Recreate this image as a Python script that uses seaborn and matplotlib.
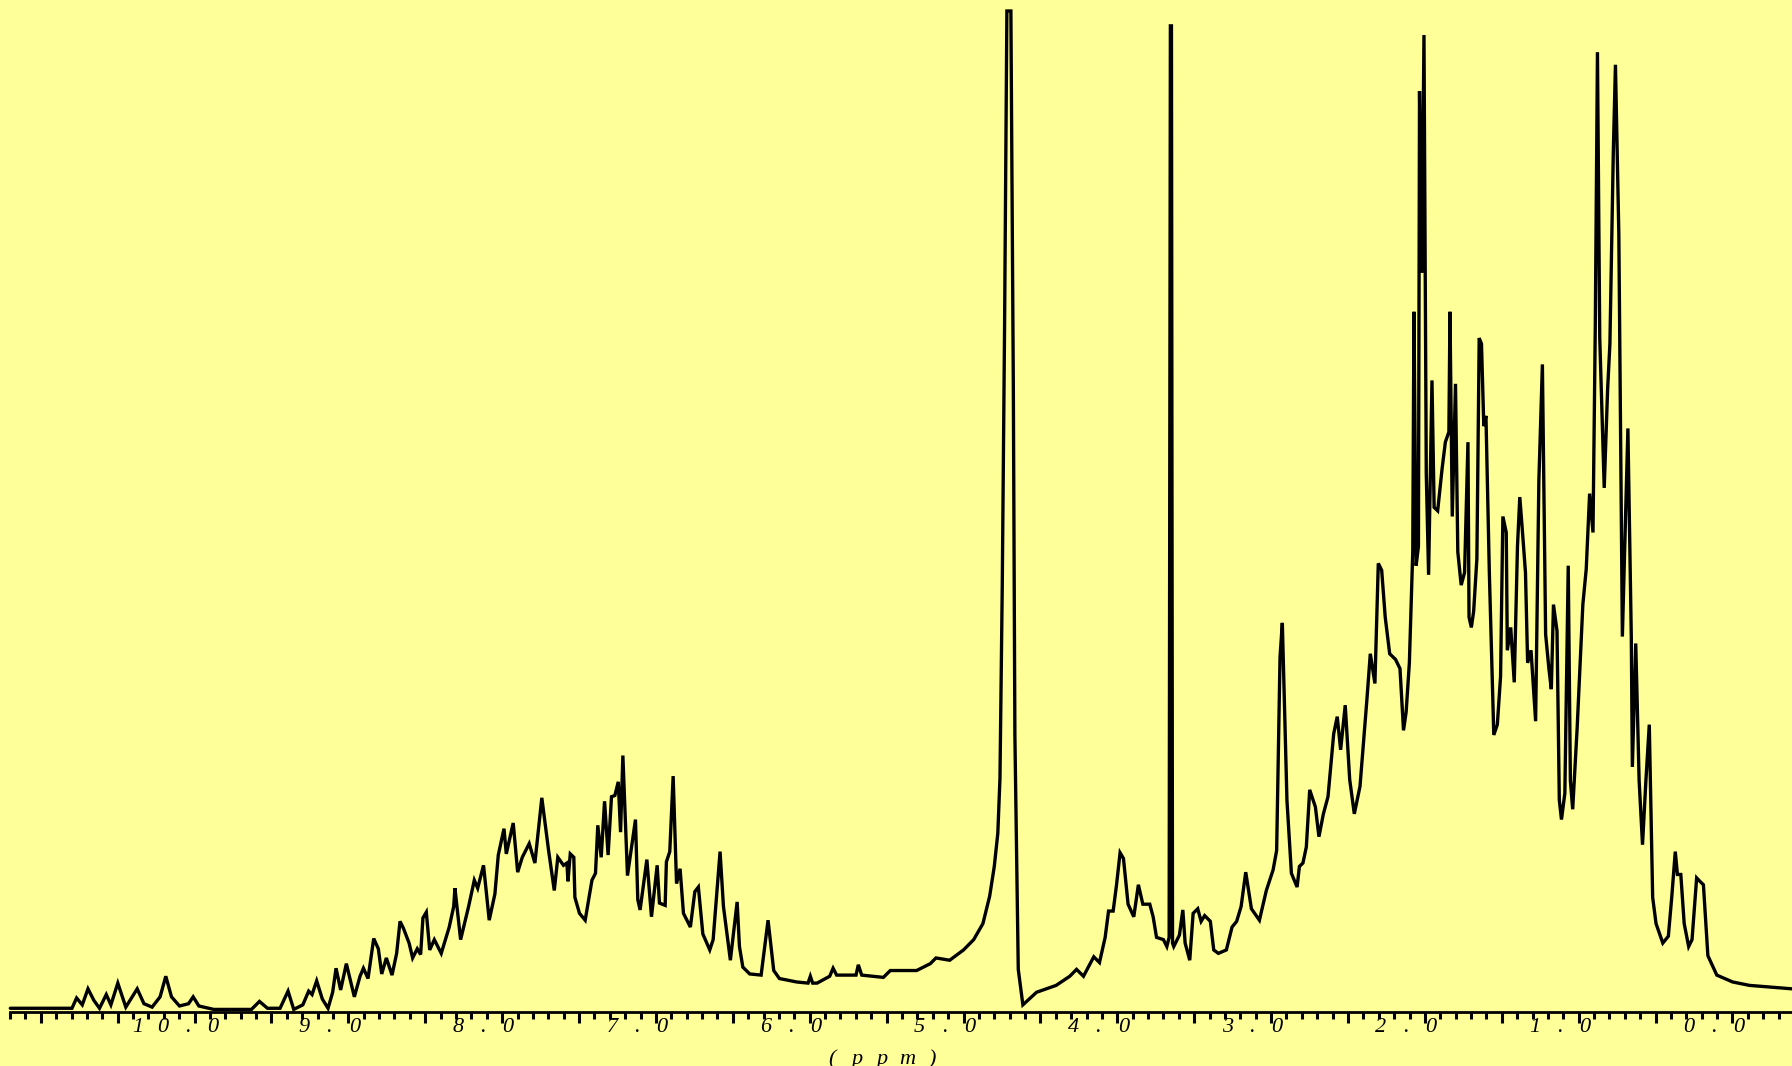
import matplotlib
matplotlib.use("Agg")
import matplotlib.pyplot as plt
import pandas as pd
import seaborn as sns
from matplotlib.ticker import MultipleLocator

# chemical shift (ppm) and intensity (arbitrary units)
ppm = [11.198, 11.042, 10.893, 10.797, 10.767, 10.730, 10.693, 10.655, 10.618, 10.574,
       10.544, 10.499, 10.447, 10.373, 10.329, 10.276, 10.224, 10.187, 10.150, 10.098,
       10.039, 10.009, 9.972, 9.875, 9.779, 9.630, 9.578, 9.526, 9.444, 9.392,
       9.355, 9.296, 9.258, 9.236, 9.206, 9.169, 9.132, 9.102, 9.080, 9.050,
       9.013, 8.961, 8.924, 8.902, 8.872, 8.835, 8.805, 8.783, 8.753, 8.716,
       8.686, 8.664, 8.642, 8.605, 8.582, 8.552, 8.530, 8.515, 8.493, 8.471,
       8.441, 8.396, 8.344, 8.315, 8.307, 8.270, 8.218, 8.181, 8.159, 8.121,
       8.084, 8.047, 8.025, 7.988, 7.973, 7.928, 7.899, 7.869, 7.824, 7.787,
       7.742, 7.698, 7.661, 7.638, 7.601, 7.579, 7.572, 7.557, 7.534, 7.527,
       7.497, 7.460, 7.416, 7.393, 7.378, 7.356, 7.334, 7.311, 7.289, 7.267,
       7.245, 7.230, 7.215, 7.185, 7.133, 7.118, 7.103, 7.059, 7.029, 6.992,
       6.977, 6.940, 6.932, 6.910, 6.888, 6.866, 6.843, 6.821, 6.776, 6.747,
       6.724, 6.695, 6.650, 6.628, 6.583, 6.561, 6.516, 6.472, 6.457, 6.435,
       6.390, 6.316, 6.271, 6.234, 6.197, 6.085, 6.011, 5.996, 5.981, 5.952,
       5.870, 5.848, 5.825, 5.699, 5.684, 5.662, 5.521, 5.476, 5.305, 5.216,
       5.179, 5.090, 5.000, 4.934, 4.874, 4.830, 4.800, 4.777, 4.763, 4.748,
       4.733, 4.718, 4.692, 4.676, 4.666, 4.644, 4.614, 4.525, 4.398, 4.309,
       4.265, 4.220, 4.153, 4.116, 4.079, 4.057, 4.027, 4.005, 3.982, 3.960,
       3.930, 3.893, 3.863, 3.834, 3.789, 3.767, 3.745, 3.700, 3.678, 3.663,
       3.655, 3.648, 3.641, 3.633, 3.596, 3.574, 3.559, 3.529, 3.507, 3.477,
       3.455, 3.432, 3.395, 3.373, 3.343, 3.291, 3.254, 3.224, 3.195, 3.165,
       3.128, 3.076, 3.031, 2.987, 2.964, 2.942, 2.927, 2.912, 2.897, 2.868,
       2.831, 2.816, 2.793, 2.771, 2.749, 2.712, 2.689, 2.660, 2.630, 2.593,
       2.570, 2.548, 2.518, 2.489, 2.459, 2.422, 2.377, 2.355, 2.325, 2.303,
       2.281, 2.258, 2.229, 2.191, 2.162, 2.139, 2.122, 2.101, 2.079, 2.071,
       2.057, 2.042, 2.035, 2.020, 2.006, 1.991, 1.976, 1.954, 1.940, 1.917,
       1.888, 1.867, 1.844, 1.837, 1.822, 1.801, 1.786, 1.764, 1.742, 1.720,
       1.713, 1.698, 1.683, 1.662, 1.647, 1.632, 1.617, 1.603, 1.581, 1.552,
       1.529, 1.508, 1.493, 1.471, 1.464, 1.442, 1.419, 1.398, 1.383, 1.368,
       1.346, 1.332, 1.310, 1.280, 1.266, 1.259, 1.236, 1.215, 1.193, 1.178,
       1.164, 1.141, 1.126, 1.112, 1.090, 1.068, 1.054, 1.039, 1.010, 0.973,
       0.951, 0.929, 0.907, 0.892, 0.878, 0.863, 0.834, 0.812, 0.797, 0.775,
       0.761, 0.739, 0.716, 0.680, 0.658, 0.651, 0.629, 0.607, 0.585, 0.563,
       0.541, 0.519, 0.497, 0.453, 0.417, 0.395, 0.372, 0.358, 0.336, 0.314,
       0.285, 0.263, 0.233, 0.212, 0.189, 0.160, 0.102, -0.001, -0.111, -0.387]

intensity = [3, 3, 3, 3, 12, 6, 20, 10, 3, 15,
             6, 25, 4, 20, 7, 4, 13, 31, 13, 5,
             7, 13, 5, 2, 2, 2, 9, 3, 3, 18,
             2, 6, 18, 15, 27, 11, 3, 17, 38, 19,
             42, 13, 31, 38, 29, 64, 55, 33, 47, 32,
             51, 79, 73, 60, 47, 55, 50, 82, 87, 54,
             63, 51, 74, 92, 108, 63, 92, 115, 108, 128,
             80, 103, 137, 160, 138, 165, 122, 135, 147, 130,
             187, 141, 106, 135, 128, 130, 114, 138, 135, 100,
             86, 80, 115, 121, 163, 135, 184, 137, 188, 189,
             201, 157, 224, 119, 168, 98, 89, 133, 83, 128,
             95, 93, 131, 140, 206, 112, 125, 86, 74, 105,
             109, 68, 54, 63, 140, 92, 45, 96, 57, 39,
             33, 32, 80, 36, 29, 26, 25, 31, 25, 25,
             31, 38, 32, 32, 41, 32, 30, 36, 36, 42,
             47, 45, 54, 63, 77, 101, 127, 156, 204, 373,
             600, 875, 875, 544, 242, 37, 6, 17, 23, 31,
             37, 31, 48, 43, 65, 88, 88, 111, 139, 134,
             94, 83, 111, 94, 94, 83, 65, 63, 57, 65,
             862, 862, 60, 57, 67, 89, 60, 45, 86, 90,
             79, 84, 79, 54, 51, 54, 74, 79, 92, 122,
             90, 80, 106, 124, 141, 310, 340, 261, 185, 121,
             109, 127, 130, 144, 194, 179, 153, 173, 188, 243,
             258, 229, 268, 203, 173, 197, 273, 313, 287, 392,
             386, 345, 313, 308, 300, 246, 262, 305, 402, 612,
             390, 407, 805, 646, 854, 470, 382, 552, 441, 438,
             475, 498, 507, 612, 433, 549, 402, 373, 384, 498,
             345, 336, 350, 396, 589, 584, 512, 521, 384, 242,
             251, 293, 433, 419, 316, 336, 288, 407, 450, 424,
             384, 305, 316, 254, 390, 464, 566, 330, 299, 282,
             356, 333, 185, 168, 191, 390, 202, 177, 248, 356,
             387, 453, 419, 601, 839, 589, 458, 544, 584, 751,
             828, 680, 328, 510, 328, 214, 322, 202, 146, 202,
             251, 100, 77, 60, 66, 100, 140, 120, 120, 77,
             57, 63, 117, 114, 111, 49, 32, 26, 23, 20]

label_values = [10, 9, 8, 7, 6, 5, 4, 3, 2, 1, 0]
label_texts = ["10.0", "9.0", "8.0", "7.0", "6.0", "5.0", "4.0", "3.0", "2.0", "1.0", "0.0"]
axis_title = "(ppm)"

BG = "#FFFF99"
W, H = 1792, 1066
PT = 72 / 100  # points per pixel at dpi 100

sns.set_style("ticks")
plt.rcParams["font.family"] = ["Liberation Serif", "DejaVu Serif"]

fig = plt.figure(figsize=(W / 100, H / 100), dpi=100, facecolor=BG)
ax = fig.add_axes([10 / W, (H - 1011.7) / H, 1 - 10 / W, (1011.7 - 11) / H])
ax.set_facecolor(BG)

df = pd.DataFrame({"ppm": ppm, "intensity": intensity})
sns.lineplot(data=df, x="ppm", y="intensity", sort=False, estimator=None,
             color="black", linewidth=2.4, ax=ax)
for ln in ax.lines:
    ln.set_clip_on(False)
    ln.set_solid_joinstyle("miter")

ax.set_xlim(11.20, -0.387)
ax.set_ylim(0, 875)
for s in ["left", "top", "right"]:
    ax.spines[s].set_visible(False)
ax.spines["bottom"].set_linewidth(2.0)
ax.spines["bottom"].set_color("black")
ax.set_yticks([])
ax.set_xlabel("")
ax.set_ylabel("")
ax.xaxis.set_major_locator(MultipleLocator(0.5))
ax.xaxis.set_minor_locator(MultipleLocator(0.1))
ax.tick_params(axis="x", which="major", direction="out", length=7.7, width=2.2,
               color="black", labelbottom=False)
ax.tick_params(axis="x", which="minor", direction="out", length=4.8, width=2.2,
               color="black")

# tick labels, spaced character by character like the plotter output
for v, lab in zip(label_values, label_texts):
    n = len(lab)
    for i, ch in enumerate(lab):
        dx = (-19 + (i - (n - 1) / 2) * 25) * PT
        ax.annotate(ch, xy=(v, 0), xycoords=("data", "axes fraction"),
                    xytext=(dx, -20.3 * PT), textcoords="offset points",
                    ha="center", va="baseline", fontsize=16, fontstyle="italic",
                    color="black", annotation_clip=False)

n = len(axis_title)
for i, ch in enumerate(axis_title):
    x = 882 + (i - (n - 1) / 2) * 25
    fig.text(x / W, 2 / H, ch, ha="center", va="baseline", fontsize=16,
             fontstyle="italic", color="black")

fig.savefig("out.png", dpi=100, facecolor=BG)
